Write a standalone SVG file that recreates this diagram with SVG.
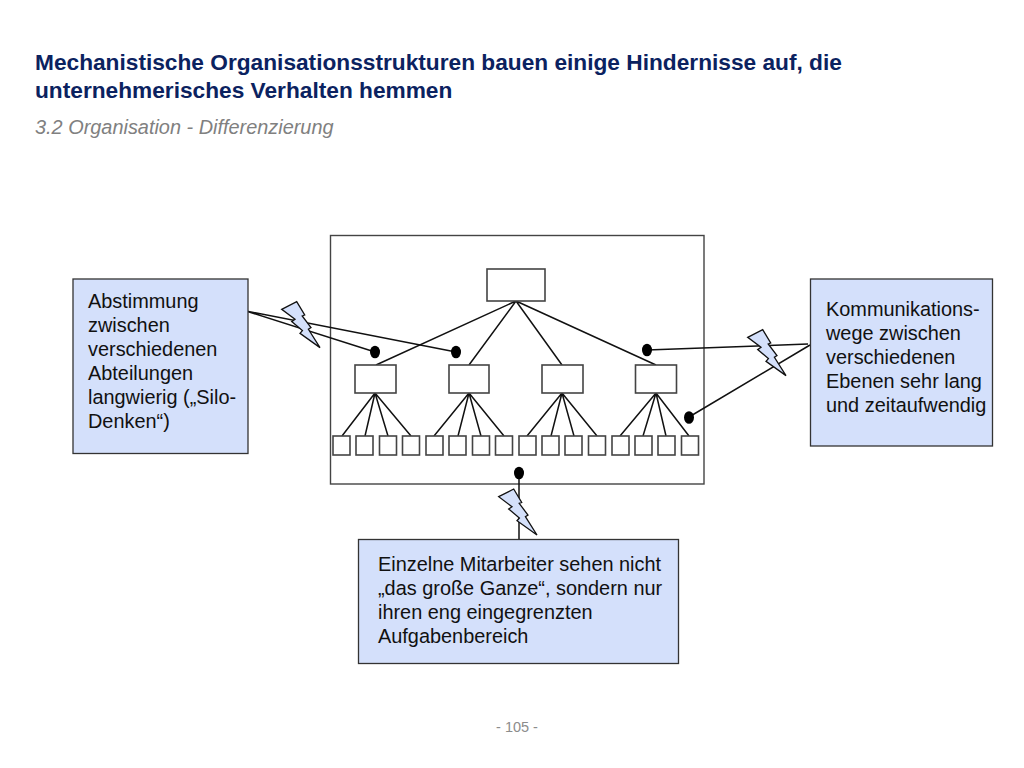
<svg xmlns="http://www.w3.org/2000/svg" width="1024" height="768" viewBox="0 0 1024 768">
<style>
text{font-family:"Liberation Sans",Arial,sans-serif}
.title{font-size:22.7px;font-weight:bold;fill:#0b2260}
.sub{font-size:19.9px;font-style:italic;fill:#808080}
.foot{font-size:14.500px;fill:#8c8c8c}
.note{font-size:19.9px;fill:#111}
.box{fill:#d4e0fb;stroke:#333;stroke-width:1.3}
.org{fill:#fff;stroke:#444;stroke-width:1.6}
.line{fill:none;stroke:#111;stroke-width:1.5}
.bolt{fill:#d4e0fb;stroke:#111;stroke-width:1.3;stroke-linejoin:miter}
</style>
<defs>
<polygon id="boltshape" points="0,0 15,-7.700 23,5.700 20.500,6.700 29.300,18.300 26.700,20 38.300,38.300 18.300,24 20.700,21.300 10,12.300 13.300,10"/>
<rect id="leaf" width="17" height="19" class="org"/>
</defs>
<rect width="1024" height="768" fill="#fff"/>
<text class="title" x="35" y="70">Mechanistische Organisationsstrukturen bauen einige Hindernisse auf, die</text>
<text class="title" x="35" y="98">unternehmerisches Verhalten hemmen</text>
<text class="sub" x="35" y="134">3.2 Organisation - Differenzierung</text>
<text class="foot" x="517" y="732" text-anchor="middle">- 105 -</text>
<g id="frame"><rect x="330.500" y="235.500" width="373.500" height="248.500" fill="#fff" stroke="#444" stroke-width="1.400"/></g>
<g id="connectors">
<path class="line" d="M516 301L376 365M516 301L469 365M516 301L562 365M516 301L656 365"/>
<path class="line" d="M375 393L342 436M375 393L365 436M375 393L388 436M375 393L411 436"/>
<path class="line" d="M469 393L434 436M469 393L458 436M469 393L481 436M469 393L504 436"/>
<path class="line" d="M562 393L527 436M562 393L551 436M562 393L574 436M562 393L597 436"/>
<path class="line" d="M656 393L620 436M656 393L643 436M656 393L666 436M656 393L689 436"/>
<path class="line" d="M246 311L375 352M246 311L456 352"/>
<path class="line" d="M647 350L808 344M689 417L810 345"/>
<path class="line" d="M519 473V539"/>
</g>
<g id="dots" fill="#000">
<ellipse cx="375" cy="352" rx="5" ry="6.300"/>
<ellipse cx="456" cy="352" rx="5" ry="6.300"/>
<ellipse cx="647" cy="350" rx="5" ry="6.300"/>
<ellipse cx="689" cy="417.500" rx="5" ry="6.300"/>
<ellipse cx="519" cy="473" rx="5" ry="6.300"/>
</g>
<g id="top-node"><rect class="org" x="487" y="269" width="58" height="32"/></g>
<g id="mid-1"><rect class="org" x="355" y="365" width="41" height="28"/></g>
<g id="mid-2"><rect class="org" x="449" y="365" width="40" height="28"/></g>
<g id="mid-3"><rect class="org" x="542" y="365" width="41" height="28"/></g>
<g id="mid-4"><rect class="org" x="635.500" y="365" width="41" height="28"/></g>
<g id="leaves">
<use href="#leaf" x="333" y="436"/><use href="#leaf" x="356" y="436"/><use href="#leaf" x="379.500" y="436"/><use href="#leaf" x="402.500" y="436"/>
<use href="#leaf" x="426" y="436"/><use href="#leaf" x="449" y="436"/><use href="#leaf" x="472.500" y="436"/><use href="#leaf" x="495.500" y="436"/>
<use href="#leaf" x="519" y="436"/><use href="#leaf" x="542" y="436"/><use href="#leaf" x="565" y="436"/><use href="#leaf" x="588.500" y="436"/>
<use href="#leaf" x="612" y="436"/><use href="#leaf" x="635" y="436"/><use href="#leaf" x="658" y="436"/><use href="#leaf" x="681.500" y="436"/>
</g>
<g id="bolt-left"><use href="#boltshape" x="281.700" y="309.300" class="bolt"/></g>
<g id="bolt-right"><use href="#boltshape" x="747.700" y="337.300" class="bolt"/></g>
<g id="bolt-bottom"><use href="#boltshape" x="498.700" y="496.700" class="bolt"/></g>
<g id="note-left">
<rect class="box" x="73" y="279" width="175" height="174.500"/>
<text class="note" x="88" y="308">Abstimmung</text>
<text class="note" x="88" y="332">zwischen</text>
<text class="note" x="88" y="356">verschiedenen</text>
<text class="note" x="88" y="380">Abteilungen</text>
<text class="note" x="88" y="404">langwierig („Silo-</text>
<text class="note" x="88" y="428">Denken“)</text>
</g>
<g id="note-right">
<rect class="box" x="810.500" y="279" width="182" height="167"/>
<text class="note" x="826" y="316">Kommunikations-</text>
<text class="note" x="826" y="340">wege zwischen</text>
<text class="note" x="826" y="364">verschiedenen</text>
<text class="note" x="826" y="388">Ebenen sehr lang</text>
<text class="note" x="826" y="412">und zeitaufwendig</text>
</g>
<g id="note-bottom">
<rect class="box" x="358.500" y="539.500" width="320" height="124"/>
<text class="note" x="378" y="571">Einzelne Mitarbeiter sehen nicht</text>
<text class="note" x="378" y="595">„das große Ganze“, sondern nur</text>
<text class="note" x="378" y="619">ihren eng eingegrenzten</text>
<text class="note" x="378" y="643">Aufgabenbereich</text>
</g>
</svg>
